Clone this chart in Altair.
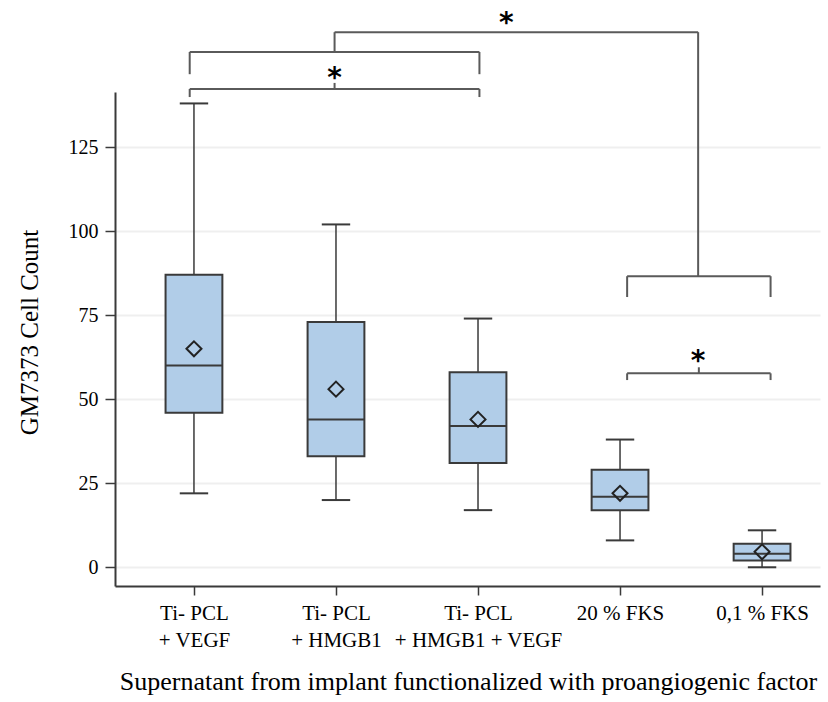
import json
import altair as alt
import pandas as pd

# ---- data ----
categories = ["Ti- PCL\n+ VEGF", "Ti- PCL\n+ HMGB1", "Ti- PCL\n+ HMGB1 + VEGF", "20 % FKS", "0,1 % FKS"]
whisker_low = [22, 20, 17, 8, 0]
q1 = [46, 33, 31, 17, 2]
median = [60, 44, 42, 21, 4]
q3 = [87, 73, 58, 29, 7]
whisker_high = [138, 102, 74, 38, 11]
mean = [65, 53, 44, 22, 4.6]

y_ticks = [0, 25, 50, 75, 100, 125]

# significance brackets: (left, right, bar level, end level)
brackets = [
    (-0.03, 2.01, 153.3, 146.7),   # upper left bracket (groups 1-3)
    (-0.03, 2.01, 142.3, 139.9),   # lower left bracket with star
    (3.05, 4.06, 86.6, 80.4),      # right upper bracket
    (3.05, 4.06, 57.7, 55.7),      # right lower bracket with star
]
top_bracket = (0.99, 3.55, 159.2)  # joins the two group brackets
star_x = [0.99, 2.2, 3.55]
star_y = [147.3, 163.7, 63.1]
tick_brackets = [1, 3]  # brackets with a small centre tick

df = pd.DataFrame({
    "idx": list(range(len(categories))),
    "cat": categories,
    "lo": whisker_low, "q1": q1, "med": median, "q3": q3,
    "hi": whisker_high, "mean": mean,
})

segs = []
for i, (l, r, yb, ye) in enumerate(brackets):
    segs.append({"x": l, "x2": r, "y": yb, "y2": yb})
    segs.append({"x": l, "x2": l, "y": yb, "y2": ye})
    segs.append({"x": r, "x2": r, "y": yb, "y2": ye})
    if i in tick_brackets:
        c = (l + r) / 2
        segs.append({"x": c, "x2": c, "y": yb, "y2": yb + 1.8})
tl, tr, ty = top_bracket
segs.append({"x": tl, "x2": tr, "y": ty, "y2": ty})
segs.append({"x": tl, "x2": tl, "y": ty, "y2": brackets[0][2]})
segs.append({"x": tr, "x2": tr, "y": ty, "y2": brackets[2][2]})
seg_df = pd.DataFrame(segs)
star_df = pd.DataFrame({"x": star_x, "y": star_y, "t": ["*"] * len(star_x)})

label_lines = [c.split("\n") for c in categories]
label_expr = json.dumps(label_lines) + "[round(datum.value)]"

XDOM = [-0.556, 4.408]
YDOM = [-5.57, 141.4]
serif = "Liberation Serif"
dark = "#3a3a3a"

xscale = alt.Scale(domain=XDOM, nice=False, zero=False)
yscale = alt.Scale(domain=YDOM, nice=False, zero=False)

x_axis = alt.Axis(
    values=[0, 1, 2, 3, 4], labelExpr=label_expr, grid=False,
    labelFont=serif, labelFontSize=21, labelColor="black", labelLineHeight=27,
    labelPadding=7, tickSize=9, tickColor=dark, tickWidth=1.5,
    domainColor=dark, domainWidth=2,
    title="Supernatant from implant functionalized with proangiogenic factor",
    titleFont=serif, titleFontSize=26, titleFontWeight="normal", titleColor="black",
    titleX=353, titleY=103, titleBaseline="alphabetic", titleAlign="center",
)
y_axis = alt.Axis(
    values=y_ticks, grid=True, gridColor="#efefef", gridWidth=2,
    labelFont=serif, labelFontSize=20, labelColor="black", labelPadding=7,
    tickSize=10, tickColor=dark, tickWidth=1.5,
    domainColor=dark, domainWidth=2,
    title="GM7373 Cell Count", titleFont=serif, titleFontSize=25,
    titleFontWeight="normal", titleColor="black",
    titleAngle=270, titleX=-78, titleY=240, titleBaseline="alphabetic", titleAlign="center",
)

base = alt.Chart(df)

whisk = base.mark_rule(color=dark, strokeWidth=1.5).encode(
    x=alt.X("idx:Q", scale=xscale, axis=x_axis),
    y=alt.Y("lo:Q", scale=yscale, axis=y_axis),
    y2="hi:Q",
)
caps = base.transform_fold(["lo", "hi"], as_=["k", "v"]).transform_calculate(
    xa="datum.idx - 0.1", xb="datum.idx + 0.1"
).mark_rule(color=dark, strokeWidth=2).encode(
    x=alt.X("xa:Q", scale=xscale), x2="xb:Q", y=alt.Y("v:Q", scale=yscale)
)
boxes = base.transform_calculate(
    xa="datum.idx - 0.2", xb="datum.idx + 0.2"
).mark_bar(fill="#b1cde8", stroke=dark, strokeWidth=2).encode(
    x=alt.X("xa:Q", scale=xscale), x2="xb:Q",
    y=alt.Y("q1:Q", scale=yscale), y2="q3:Q",
)
meds = base.transform_calculate(
    xa="datum.idx - 0.2", xb="datum.idx + 0.2"
).mark_rule(color=dark, strokeWidth=2).encode(
    x=alt.X("xa:Q", scale=xscale), x2="xb:Q", y=alt.Y("med:Q", scale=yscale)
)
means = base.mark_point(shape="diamond", filled=False, size=225, color="#222222",
                        opacity=1, strokeWidth=2).encode(
    x=alt.X("idx:Q", scale=xscale), y=alt.Y("mean:Q", scale=yscale)
)
brk = alt.Chart(seg_df).mark_rule(color="#5a5a5a", strokeWidth=2, clip=False).encode(
    x=alt.X("x:Q", scale=xscale), x2="x2:Q",
    y=alt.Y("y:Q", scale=yscale), y2="y2:Q",
)
stars = alt.Chart(star_df).mark_text(
    font="DejaVu Sans", fontSize=28, fontWeight="bold", color="black",
    baseline="alphabetic", dy=15, clip=False,
).encode(
    x=alt.X("x:Q", scale=xscale), y=alt.Y("y:Q", scale=yscale), text="t:N"
)

chart = alt.layer(whisk, boxes, meds, caps, means, brk, stars).properties(
    width=705, height=494,
    padding={"left": 115, "top": 92, "right": 8, "bottom": 116},
    autosize=alt.AutoSizeParams(type="none"),
    background="white",
).configure_view(stroke=None)

chart.save("out.html", embed_options={"renderer": "svg", "actions": False})
